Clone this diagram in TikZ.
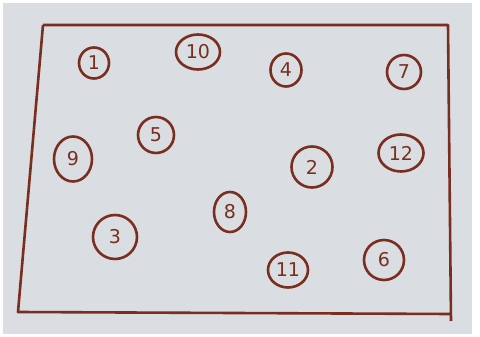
\documentclass[tikz,border=0pt]{standalone}
\usepackage{fontspec}
\setsansfont{DejaVu Sans}
\usetikzlibrary{shapes.geometric}
\definecolor{ink}{RGB}{122,46,32}
\definecolor{paper}{RGB}{218,221,225}

\begin{document}
\begin{tikzpicture}[x=1pt,y=-1pt,
  num/.style={draw=ink,ellipse,line width=2.6pt,inner sep=0pt,text=ink,
    font=\sffamily\fontsize{19}{19}\selectfont}]
\useasboundingbox (0,0) rectangle (480,337);
\fill[paper] (3,3) rectangle (472,334);
\draw[ink,line width=2.6pt,line join=round] (43,25) -- (448,25) -- (451,321)
  (450,314) -- (18,312) -- (43,25);
\node[num,minimum width=30pt,minimum height=31pt] (n1) at (94,63) {1};
\node[num,minimum width=44pt,minimum height=35pt] (n10) at (198,52) {10};
\node[num,minimum width=31pt,minimum height=33pt] (n4) at (286,70) {4};
\node[num,minimum width=34pt,minimum height=34pt] (n7) at (404,72) {7};
\node[num,minimum width=36pt,minimum height=36pt] (n5) at (156,135) {5};
\node[num,minimum width=38pt,minimum height=45pt] (n9) at (73,159) {9};
\node[num,minimum width=41pt,minimum height=41pt] (n2) at (312,167) {2};
\node[num,minimum width=45pt,minimum height=37pt] (n12) at (401,153) {12};
\node[num,minimum width=32pt,minimum height=40pt] (n8) at (230,212) {8};
\node[num,minimum width=44pt,minimum height=44pt] (n3) at (115,237) {3};
\node[num,minimum width=40pt,minimum height=35pt] (n11) at (288,270) {11};
\node[num,minimum width=40pt,minimum height=40pt] (n6) at (384,260) {6};
\end{tikzpicture}
\end{document}
